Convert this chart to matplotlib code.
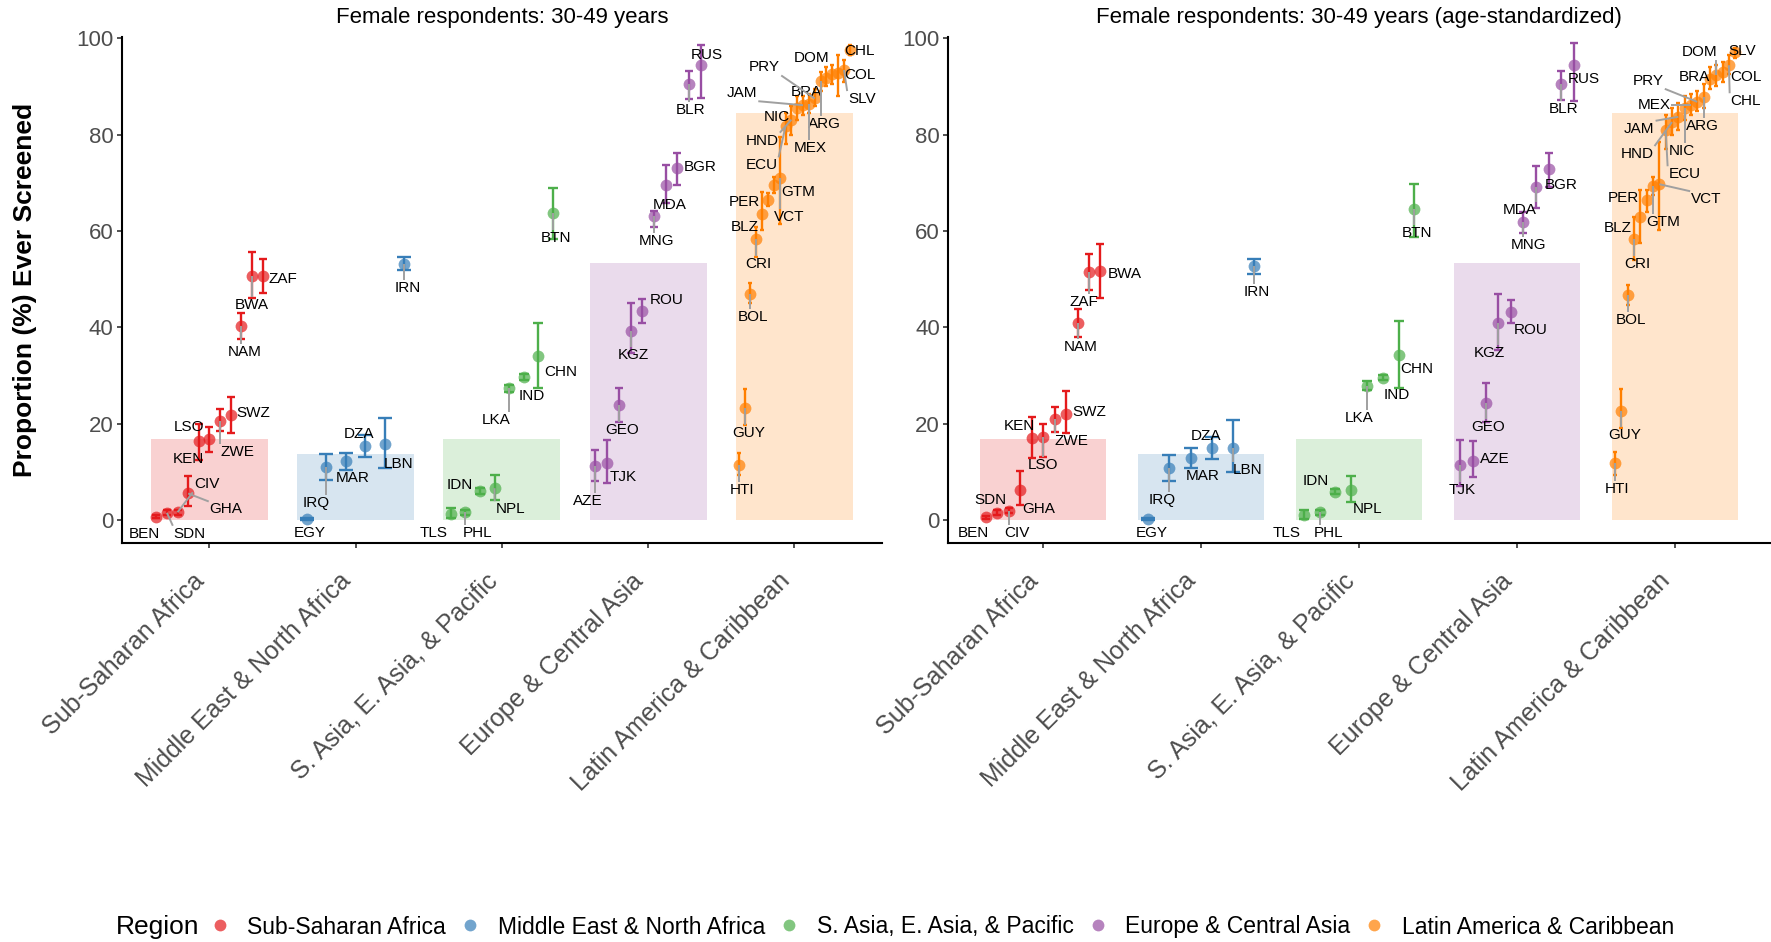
import matplotlib
matplotlib.use("Agg")
import matplotlib.pyplot as plt
from matplotlib.lines import Line2D
from matplotlib.patches import Rectangle
import math

plt.rcParams['font.family'] = ['Liberation Sans', 'DejaVu Sans']

# ---------------- data ----------------
regions = ["Sub-Saharan Africa", "Middle East & North Africa",
           "S. Asia, E. Asia, & Pacific", "Europe & Central Asia",
           "Latin America & Caribbean"]
region_colors = ["#E41A1C", "#377EB8", "#4DAF4A", "#984EA3", "#FF7F00"]
region_target = [16.8, 13.7, 16.8, 53.3, 84.5]

countries = ["BEN", "SDN", "CIV", "GHA", "KEN", "LSO", "ZWE", "SWZ", "NAM", "BWA", "ZAF",
             "EGY", "IRQ", "MAR", "DZA", "LBN", "IRN",
             "TLS", "PHL", "IDN", "NPL", "LKA", "IND", "CHN", "BTN",
             "AZE", "TJK", "GEO", "KGZ", "ROU", "MNG", "MDA", "BGR", "BLR", "RUS",
             "HTI", "GUY", "BOL", "CRI", "BLZ", "PER", "GTM", "VCT", "ECU", "HND",
             "NIC", "JAM", "MEX", "PRY", "ARG", "BRA", "DOM", "COL", "SLV", "CHL"]
country_region = [0] * 11 + [1] * 6 + [2] * 8 + [3] * 10 + [4] * 20

# Panel A: crude
a_est = [0.7, 1.5, 1.6, 5.5, 16.3, 16.8, 20.5, 21.8, 40.2, 50.6, 50.7,
         0.15, 11.1, 12.2, 15.4, 15.7, 53.1,
         1.2, 1.6, 6.0, 6.6, 27.3, 29.7, 34.0, 63.8,
         11.2, 11.9, 23.9, 39.3, 43.4, 63.1, 69.6, 73.0, 90.6, 94.5,
         11.5, 23.2, 47.0, 58.4, 63.5, 66.4, 69.5, 71.0, 81.7, 83.1,
         85.6, 86.1, 86.4, 87.5, 91.1, 91.8, 92.5, 92.7, 93.4, 97.5]
a_lo = [0.4, 1.0, 1.1, 2.8, 12.4, 14.2, 18.5, 18.0, 37.5, 46.0, 47.2,
        0.0, 8.4, 10.4, 13.1, 10.7, 51.9,
        0.4, 1.1, 5.4, 4.1, 26.6, 29.1, 27.5, 58.4,
        8.0, 7.7, 20.4, 34.6, 40.9, 60.9, 65.7, 69.5, 87.3, 87.7,
        9.3, 19.7, 45.0, 54.5, 60.2, 65.1, 67.8, 61.5, 78.0, 80.0,
        83.0, 84.0, 84.5, 86.0, 89.0, 90.0, 90.5, 88.0, 91.0, 96.5]
a_hi = [1.1, 2.0, 2.1, 9.1, 20.0, 19.2, 23.0, 25.6, 42.9, 55.7, 54.1,
        0.4, 13.8, 14.0, 17.6, 21.1, 54.6,
        2.4, 2.1, 6.6, 9.3, 28.0, 30.3, 40.8, 68.9,
        14.5, 16.7, 27.5, 45.1, 45.8, 64.1, 73.7, 76.2, 93.2, 98.7,
        14.0, 27.1, 49.1, 60.9, 68.1, 67.8, 71.2, 79.5, 84.5, 86.0,
        88.0, 88.0, 88.5, 89.5, 93.0, 94.0, 94.5, 96.5, 95.5, 98.5]

# Panel B: age-standardized
b_est = [0.55, 1.5, 1.9, 6.2, 17.1, 17.3, 20.9, 22.1, 40.8, 51.7, 51.5,
         0.2, 10.7, 12.9, 14.9, 15.0, 52.7,
         1.0, 1.6, 5.9, 6.2, 27.8, 29.5, 34.2, 64.5,
         12.3, 11.5, 24.3, 40.8, 43.2, 61.9, 69.2, 72.8, 90.5, 94.5,
         11.8, 22.6, 46.7, 58.3, 62.9, 66.4, 69.4, 69.7, 80.9, 82.6,
         85.6, 83.7, 86.1, 86.8, 87.8, 91.6, 92.3, 93.0, 97.2, 94.4]
b_lo = [0.2, 1.0, 1.4, 3.1, 12.8, 13.1, 18.3, 18.0, 37.9, 46.0, 47.7,
        0.0, 8.0, 10.7, 12.6, 9.9, 51.0,
        0.3, 1.1, 5.4, 3.8, 27.0, 29.0, 27.3, 58.8,
        8.9, 7.1, 20.4, 35.3, 40.9, 59.5, 64.7, 69.2, 87.1, 86.9,
        9.3, 19.0, 44.6, 53.9, 57.4, 64.0, 67.4, 60.2, 77.0, 80.0,
        83.0, 81.0, 84.0, 85.0, 85.5, 89.5, 90.0, 91.0, 96.0, 92.5]
b_hi = [0.9, 2.0, 2.4, 10.2, 21.4, 19.9, 23.4, 26.8, 43.7, 57.2, 55.3,
        0.5, 13.5, 15.0, 17.3, 20.7, 54.1,
        2.0, 2.1, 6.4, 9.1, 28.8, 30.0, 41.3, 69.8,
        16.3, 16.7, 28.4, 47.0, 45.6, 64.0, 73.5, 76.1, 93.2, 99.0,
        14.2, 27.1, 48.8, 62.9, 68.5, 68.5, 71.2, 78.5, 84.0, 85.5,
        88.0, 86.5, 88.5, 89.0, 90.5, 94.0, 94.5, 95.0, 98.0, 96.5]

# label offsets (pixels, label centre relative to point) - layout only
a_offsets = {
    "BEN": (-12, -17), "SDN": (23, -21), "CIV": (29, 28), "GHA": (38, -16),
    "KEN": (-10, -18), "LSO": (-20, 12), "ZWE": (17, -31), "SWZ": (23, 2),
    "NAM": (3, -26), "BWA": (0, -29), "ZAF": (20, -3),
    "EGY": (3, -14), "IRQ": (-10, -36), "MAR": (7, -17), "DZA": (-6, 12),
    "LBN": (14, -20), "IRN": (3, -24),
    "TLS": (-17, -19), "PHL": (12, -21), "IDN": (-20, 6), "NPL": (16, -21),
    "LKA": (-13, -32), "IND": (8, -19), "CHN": (22, -16), "BTN": (3, -25),
    "AZE": (-8, -35), "TJK": (16, -14), "GEO": (3, -25), "KGZ": (3, -24),
    "ROU": (24, 11), "MNG": (3, -25), "MDA": (4, -20), "BGR": (23, 1),
    "BLR": (2, -26), "RUS": (6, 10),
    "HTI": (3, -25), "GUY": (4, -25), "BOL": (3, -23), "CRI": (2, -25),
    "BLZ": (-17, -13), "PER": (-24, -2), "GTM": (24, -7), "VCT": (10, -39),
    "ECU": (-24, -39), "HND": (-29, -21), "NIC": (-20, -9), "JAM": (-61, 12),
    "MEX": (1, -44), "PRY": (-50, 31), "ARG": (4, -43), "BRA": (-20, -14),
    "DOM": (-21, 16), "COL": (22, -2), "SLV": (18, -29), "CHL": (10, -1),
}
b_offsets = {
    "BEN": (-12, -16), "SDN": (-7, 13), "CIV": (8, -22), "GHA": (19, -19),
    "KEN": (-12, 12), "LSO": (0, -28), "ZWE": (17, -22), "SWZ": (23, 2),
    "NAM": (3, -24), "ZAF": (-5, -30), "BWA": (24, -3),
    "EGY": (3, -14), "IRQ": (-7, -32), "MAR": (12, -18), "DZA": (-6, 12),
    "LBN": (15, -22), "IRN": (3, -26),
    "TLS": (-17, -18), "PHL": (9, -21), "IDN": (-20, 11), "NPL": (16, -19),
    "LKA": (-8, -32), "IND": (14, -17), "CHN": (18, -14), "BTN": (3, -24),
    "TJK": (2, -25), "AZE": (22, 2), "GEO": (3, -24), "KGZ": (-9, -30),
    "ROU": (20, -18), "MNG": (5, -23), "MDA": (-16, -23), "BGR": (12, -16),
    "BLR": (2, -25), "RUS": (10, -14),
    "HTI": (2, -26), "GUY": (3, -24), "BOL": (3, -25), "CRI": (3, -25),
    "BLZ": (-23, -11), "PER": (-23, 2), "GTM": (10, -36), "VCT": (47, -15),
    "ECU": (19, -44), "HND": (-35, -32), "JAM": (-39, -12), "NIC": (-3, -43),
    "MEX": (-37, 0), "PRY": (-49, 21), "ARG": (-1, -29), "BRA": (-16, 2),
    "DOM": (-17, 23), "COL": (23, -5), "CHL": (17, -36), "SLV": (7, 1),
}

W, H = 1771, 942
fig = plt.figure(figsize=(W / 100, H / 100), dpi=100)

y_top_px, y_bot_px = 37.3, 543.1
axA = fig.add_axes([121.7 / W, 1 - y_bot_px / H, (882.0 - 121.7) / W, (y_bot_px - y_top_px) / H])
axB = fig.add_axes([948.2 / W, 1 - y_bot_px / H, (1770.0 - 948.2) / W, (y_bot_px - y_top_px) / H])

label_records = []


def draw_panel(ax, est, lo, hi, offsets, title):
    ax.set_xlim(0.4, 5.6)
    ax.set_ylim(-4.8, 100.2)
    pos = ax.get_position()
    px_per_unit = pos.width * W / 5.2
    for r in range(5):
        ax.add_patch(Rectangle((r + 1 - 0.4, 0), 0.8, region_target[r],
                               facecolor=region_colors[r], alpha=0.2, lw=0, zorder=0))
    for r in range(5):
        idx = [i for i in range(len(countries)) if country_region[i] == r]
        idx.sort(key=lambda i: est[i])
        n = len(idx)
        col = region_colors[r]
        cap = 0.27 / n * px_per_unit / 1.389
        for k, i in enumerate(idx):
            x = r + 1 - 0.4 + 0.8 * (k + 0.5) / n
            ax.errorbar([x], [est[i]], yerr=[[est[i] - lo[i]], [hi[i] - est[i]]],
                        fmt='none', ecolor=col, elinewidth=1.7, capsize=cap,
                        capthick=1.7, zorder=2)
            ax.plot([x], [est[i]], 'o', ms=8.5, color=col, alpha=0.7, mew=0, zorder=3)
            dx, dy = offsets[countries[i]]
            t = ax.annotate(countries[i], (x, est[i]), xytext=(dx, dy),
                            textcoords='offset pixels', ha='center', va='center',
                            fontsize=11, color='black', zorder=5, annotation_clip=False)
            label_records.append((ax, t, x, est[i]))
    for s in ['top', 'right']:
        ax.spines[s].set_visible(False)
    for s in ['left', 'bottom']:
        ax.spines[s].set_linewidth(1.5)
        ax.spines[s].set_color('black')
    ax.set_xticks([1, 2, 3, 4, 5])
    ax.set_xticklabels(regions, rotation=45, ha='right', va='top', fontsize=18, color='#4D4D4D')
    ax.set_yticks([0, 20, 40, 60, 80, 100])
    ax.set_yticklabels(['0', '20', '40', '60', '80', '100'], fontsize=16, color='#4D4D4D')
    ax.tick_params(axis='x', length=3.5, width=1.2, color='#333333', pad=15)
    ax.tick_params(axis='y', length=3.5, width=1.2, color='#333333', pad=2.5)
    ax.set_facecolor('white')
    fig.text((pos.x0 + pos.x1) / 2, 1 - 18 / H, title, ha='center', va='center', fontsize=16)


draw_panel(axA, a_est, a_lo, a_hi, a_offsets, "Female respondents: 30-49 years")
draw_panel(axB, b_est, b_lo, b_hi, b_offsets, "Female respondents: 30-49 years (age-standardized)")

fig.text(25 / W, 1 - ((y_top_px + y_bot_px) / 2) / H, "Proportion (%) Ever Screened",
         rotation=90, ha='center', va='center', fontsize=19, fontweight='bold')

# legend
handles = [Line2D([], [], ls='none', marker='o', ms=8.5, mfc=c, mec=c, mew=0, alpha=0.7)
           for c in region_colors]
fig.legend(handles, regions, loc='center left', bbox_to_anchor=(208.5 / W, 15 / H), ncol=5,
           frameon=False, fontsize=16.5, handlelength=1.0, handletextpad=0.7,
           columnspacing=0.55, borderpad=0, borderaxespad=0)
fig.text(116 / W, 15 / H, "Region", fontsize=19, ha='left', va='center')

# repel-style leader segments
fig.canvas.draw()
rend = fig.canvas.get_renderer()
for ax, t, x, y in label_records:
    px, py = ax.transData.transform((x, y))
    bb = t.get_window_extent(rend)
    cx = min(max(px, bb.x0 - 1), bb.x1 + 1)
    cy = min(max(py, bb.y0 - 1), bb.y1 + 1)
    d = math.hypot(cx - px, cy - py)
    if d > 12:
        fig.add_artist(Line2D([px / W, cx / W], [py / H, cy / H], transform=fig.transFigure,
                              color='#A0A0A0', lw=1.4, zorder=4, solid_capstyle='butt'))

fig.savefig("out.png", dpi=100)
